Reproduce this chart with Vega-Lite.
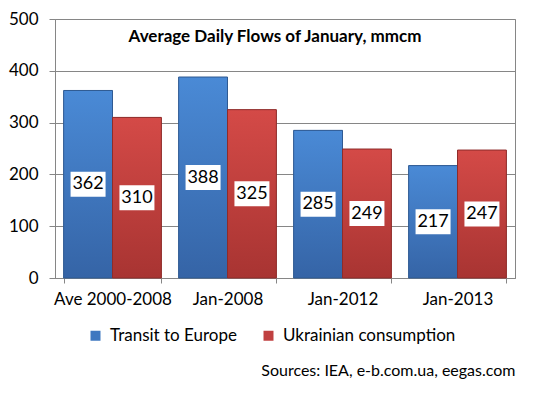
{
  "$schema": "https://vega.github.io/schema/vega-lite/v6.json",
  "width": 460,
  "height": 259,
  "autosize": {"type": "none"},
  "padding": {"left": 55, "top": 19, "right": 18, "bottom": 118},
  "background": "white",
  "title": {"text": "Average Daily Flows of January, mmcm", "orient": "top", "anchor": "middle", "frame": "group", "offset": -36, "dx": -10, "font": "Lato", "fontSize": 17, "fontWeight": "bold", "color": "black"},
  "config": {
    "view": {"stroke": "#868686", "strokeWidth": 1},
    "font": "Lato"
  },
  "data": {
    "values": [
      {"cat": "Ave 2000-2008", "series": "Transit to Europe", "value": 362},
      {"cat": "Ave 2000-2008", "series": "Ukrainian consumption", "value": 310},
      {"cat": "Jan-2008", "series": "Transit to Europe", "value": 388},
      {"cat": "Jan-2008", "series": "Ukrainian consumption", "value": 325},
      {"cat": "Jan-2012", "series": "Transit to Europe", "value": 285},
      {"cat": "Jan-2012", "series": "Ukrainian consumption", "value": 249},
      {"cat": "Jan-2013", "series": "Transit to Europe", "value": 217},
      {"cat": "Jan-2013", "series": "Ukrainian consumption", "value": 247}
    ]
  },
  "transform": [{"calculate": "datum.value / 2", "as": "mid"}],
  "encoding": {
    "x": {
      "field": "cat", "type": "nominal", "sort": null,
      "scale": {"paddingInner": 0.15, "paddingOuter": 0.075},
      "axis": {
        "title": "Sources: IEA, e-b.com.ua,  eegas.com",
        "titleFont": "Lato", "titleFontSize": 16, "titleFontWeight": "normal", "titleColor": "black",
        "titleAnchor": "end", "titleY": 92, "titleBaseline": "middle",
        "labelAngle": 0, "labelFont": "Lato", "labelFontSize": 17, "labelColor": "black", "labelPadding": 8,
        "tickBand": "extent", "tickColor": "#868686", "tickSize": 5, "domainColor": "#868686"
      }
    },
    "xOffset": {"field": "series", "type": "nominal", "scale": {"domain": ["Transit to Europe", "Ukrainian consumption"], "paddingInner": 0, "paddingOuter": 0}},
    "y": {
      "field": "value", "type": "quantitative",
      "scale": {"domain": [0, 500]},
      "axis": {
        "title": null, "values": [0, 100, 200, 300, 400, 500],
        "labelFont": "Lato", "labelFontSize": 17, "labelColor": "black", "labelPadding": 11,
        "gridColor": "#868686", "tickColor": "#868686", "tickSize": 6, "domainColor": "#868686"
      }
    }
  },
  "layer": [
    {
      "mark": {"type": "bar"},
      "encoding": {
        "color": {
          "field": "series", "type": "nominal",
          "scale": {"domain": ["Transit to Europe", "Ukrainian consumption"], "range": ["#3f78c0", "#c04040"]},
          "legend": {
            "title": null, "orient": "none", "legendX": 32, "legendY": 308, "direction": "horizontal",
            "padding": 0, "labelFont": "Lato", "labelFontSize": 17, "labelColor": "black", "labelLimit": 300,
            "symbolType": "square", "symbolSize": 100, "symbolStrokeWidth": 0, "labelOffset": 6, "columnPadding": 22
          }
        }
      }
    },
    {
      "transform": [{"filter": "datum.series === 'Transit to Europe'"}],
      "mark": {"type": "bar", "stroke": "#2f5a92", "strokeWidth": 1,
        "fill": {"gradient": "linear", "x1": 0, "y1": 0, "x2": 0, "y2": 1, "stops": [{"offset": 0, "color": "#4a8ad6"}, {"offset": 1, "color": "#3564a6"}]}}
    },
    {
      "transform": [{"filter": "datum.series === 'Ukrainian consumption'"}],
      "mark": {"type": "bar", "stroke": "#8e2c2a", "strokeWidth": 1,
        "fill": {"gradient": "linear", "x1": 0, "y1": 0, "x2": 0, "y2": 1, "stops": [{"offset": 0, "color": "#d44a47"}, {"offset": 1, "color": "#a83432"}]}}
    },
    {
      "mark": {"type": "point", "shape": "M-1,-0.714H1V0.714H-1Z", "filled": true, "fill": "white", "opacity": 1, "size": 1225, "strokeWidth": 0},
      "encoding": {"y": {"field": "mid", "type": "quantitative"}}
    },
    {
      "mark": {"type": "text", "font": "Lato", "fontSize": 18, "color": "black", "baseline": "middle"},
      "encoding": {"y": {"field": "mid", "type": "quantitative"}, "text": {"field": "value", "type": "quantitative"}}
    }
  ]
}
